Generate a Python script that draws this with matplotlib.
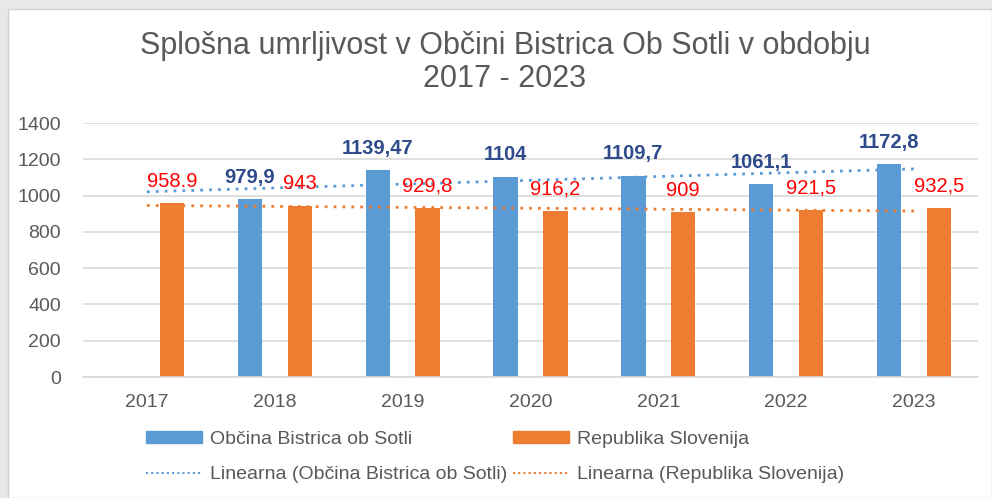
import matplotlib
matplotlib.use("Agg")
import matplotlib.pyplot as plt
import matplotlib.patches as mpatches
from matplotlib.lines import Line2D
import numpy as np

# ── Data ───────────────────────────────────────────────────────────────────
years      = ["2017", "2018", "2019", "2020", "2021", "2022", "2023"]
obcina     = [np.nan, 979.9, 1139.47, 1104, 1109.7, 1061.1, 1172.8]
slovenija  = [958.9, 943, 929.8, 916.2, 909, 921.5, 932.5]
obc_labels = ["", "979,9", "1139,47", "1104", "1109,7", "1061,1", "1172,8"]
slo_labels = ["958.9", "943", "929,8", "916,2", "909", "921,5", "932,5"]
yticks     = [0, 200, 400, 600, 800, 1000, 1200, 1400]

# ── Palette ────────────────────────────────────────────────────────────────
BLUE      = "#5B9BD5"
ORANGE    = "#ED7D31"
BLUE_LBL  = "#2F4B8C"
RED_LBL   = "#FF0000"
TEXT      = "#595959"
GRID      = "#D9D9D9"
OUTER     = "#E8E8E8"

plt.rcParams["font.family"] = ["Liberation Sans", "DejaVu Sans"]

fig = plt.figure(figsize=(9.92, 4.98), dpi=100)
fig.patch.set_facecolor(OUTER)
# white chart area
fig.patches.append(mpatches.Rectangle((8 / 992, 0), 984 / 992, 489 / 498,
                                      transform=fig.transFigure, facecolor="white",
                                      edgecolor="#D0D0D0", linewidth=1.0, zorder=-1))

ax = fig.add_axes([83 / 992, 1 - 377 / 498, 895 / 992, 254 / 498])
ax.set_zorder(1)
ax.set_facecolor("none")

x = np.arange(len(years))
w = 0.19
off = 0.195

ax.bar(x - off, obcina, width=w, color=BLUE, zorder=2)
ax.bar(x + off, slovenija, width=w, color=ORANGE, zorder=2)

# linear trendlines (as Excel does, skip missing values)
obc = np.array(obcina, dtype=float)
m = ~np.isnan(obc)
k1, b1 = np.polyfit(x[m], obc[m], 1)
k2, b2 = np.polyfit(x, np.array(slovenija, dtype=float), 1)
ax.plot(x, k1 * x + b1, color=BLUE, linestyle=(0, (1, 2.2)), linewidth=2.0, zorder=3)
ax.plot(x, k2 * x + b2, color=ORANGE, linestyle=(0, (1, 2.2)), linewidth=2.0, zorder=3)

for xi, v, t in zip(x, obcina, obc_labels):
    if t:
        ax.annotate(t, xy=(xi - off, v), xytext=(0, 9), textcoords="offset points",
                    ha="center", va="bottom", color=BLUE_LBL, fontsize=14.5,
                    fontweight="bold", zorder=4)
for xi, v, t in zip(x, slovenija, slo_labels):
    ax.annotate(t, xy=(xi + off, v), xytext=(0, 9), textcoords="offset points",
                ha="center", va="bottom", color=RED_LBL, fontsize=14.5, zorder=4)

ax.set_xlim(-0.5, len(years) - 0.5)
ax.set_ylim(0, 1400)
ax.set_yticks(yticks)
ax.set_xticks(x)
ax.set_xticklabels(years)
ax.tick_params(axis="both", length=0, colors=TEXT, labelsize=14)
ax.tick_params(axis="x", pad=12)
ax.tick_params(axis="y", pad=16)
ax.grid(axis="y", color=GRID, linewidth=1.2)
ax.set_axisbelow(True)
for side in ["top", "right", "left"]:
    ax.spines[side].set_visible(False)
ax.spines["bottom"].set_color(GRID)
ax.spines["bottom"].set_linewidth(1.2)

fig.text(505 / 992, 1 - 46 / 498, "Splošna umrljivost v Občini Bistrica Ob Sotli v obdobju",
         ha="center", va="center", color=TEXT, fontsize=22)
fig.text(505 / 992, 1 - 79 / 498, "2017 - 2023", ha="center", va="center",
         color=TEXT, fontsize=22)

handles = [
    mpatches.Patch(color=BLUE),
    Line2D([], [], color=BLUE, linestyle=(0, (1, 1.5)), linewidth=1.5),
    mpatches.Patch(color=ORANGE),
    Line2D([], [], color=ORANGE, linestyle=(0, (1, 1.5)), linewidth=1.5),
]
labels = [
    "Občina Bistrica ob Sotli",
    "Linearna (Občina Bistrica ob Sotli)",
    "Republika Slovenija",
    "Linearna (Republika Slovenija)",
]
fig.legend(handles, labels, ncol=2, loc="center left",
           bbox_to_anchor=(128 / 992, 1 - 457 / 498), frameon=False,
           fontsize=14, labelcolor=TEXT, handlelength=2.9, handleheight=0.6,
           handletextpad=0.4, columnspacing=0.3, labelspacing=0.95)

fig.savefig("out.png", dpi=100, facecolor=OUTER)
